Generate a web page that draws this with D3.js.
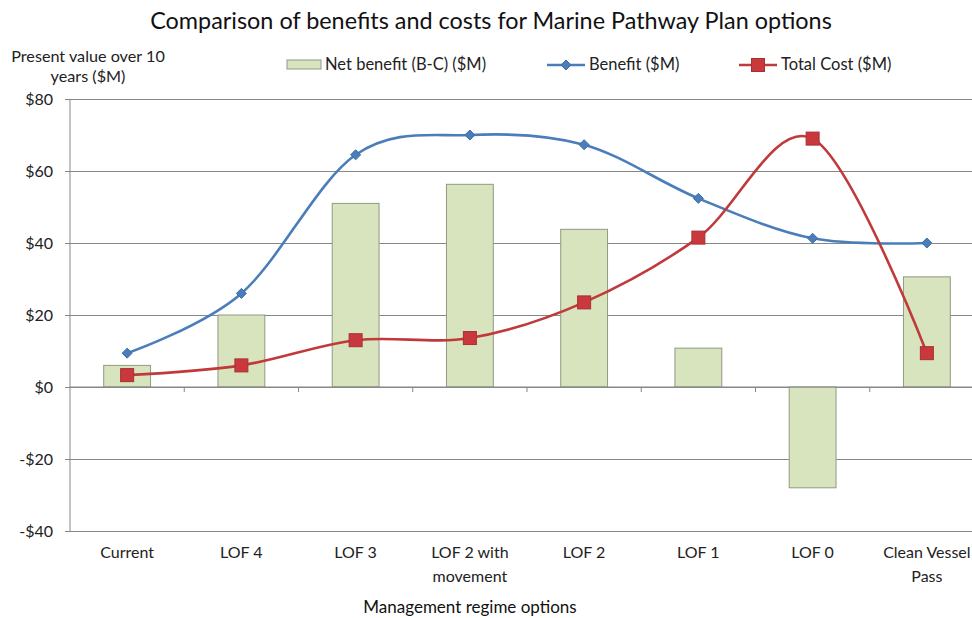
<!DOCTYPE html>
<html>
<head>
<meta charset="utf-8">
<script src="https://cdn.jsdelivr.net/npm/d3@7"></script>
<style>
  html, body { margin: 0; padding: 0; background: #fff; }
  svg { display: block; font-family: Lato, "Open Sans", sans-serif; }
</style>
</head>
<body>
<svg id="chart" width="972" height="618"></svg>
<script>
// Management regime options and their 10-year present values ($M)
const categories = ["Current", "LOF 4", "LOF 3", "LOF 2 with\nmovement", "LOF 2", "LOF 1", "LOF 0", "Clean Vessel\nPass"];
const netBenefit = [6, 20, 51, 56.3, 43.8, 10.8, -28, 30.6];
const benefit    = [9.4, 26, 64.5, 70, 67.3, 52.4, 41.3, 40];
const totalCost  = [3.3, 6, 13, 13.6, 23.5, 41.5, 69, 9.4];
const yTicks     = [-40, -20, 0, 20, 40, 60, 80];

const svg = d3.select("#chart");
const plotLeft = 70, plotRight = 984, plotTop = 99, plotBottom = 531;

const x = d3.scaleBand().domain(categories).range([plotLeft, plotRight]).paddingInner(0).paddingOuter(0);
const y = d3.scaleLinear().domain([-40, 80]).range([plotBottom, plotTop]);
const cx = c => x(c) + x.bandwidth() / 2;
const fmt = v => (v < 0 ? "-$" : "$") + Math.abs(v);

const gridColor = "#878787";
const textColor = "#222";

// horizontal gridlines with tick labels
const yAxis = svg.append("g")
  .attr("transform", `translate(${plotLeft},0)`)
  .call(d3.axisLeft(y).tickValues(yTicks).tickFormat(fmt).tickSize(-(plotRight - plotLeft)).tickPadding(17));
yAxis.select(".domain").remove();
yAxis.selectAll(".tick line").attr("stroke", gridColor).attr("stroke-width", 1).attr("x1", -5);
yAxis.selectAll(".tick text")
  .attr("font-size", 16).attr("fill", textColor).attr("font-family", "Lato, sans-serif");

// vertical axis line
svg.append("line")
  .attr("x1", plotLeft).attr("x2", plotLeft).attr("y1", plotTop).attr("y2", plotBottom)
  .attr("stroke", gridColor).attr("stroke-width", 1);

// bars for net benefit
const barW = x.bandwidth() * 0.41;
svg.append("g").selectAll("rect")
  .data(categories.map((c, i) => ({ c, v: netBenefit[i] })))
  .join("rect")
  .attr("x", d => cx(d.c) - barW / 2)
  .attr("width", barW)
  .attr("y", d => y(Math.max(0, d.v)))
  .attr("height", d => Math.abs(y(d.v) - y(0)))
  .attr("fill", "#d7e4bd")
  .attr("stroke", "#8f9a82")
  .attr("stroke-width", 1);

// category axis sitting on the zero line
const xAxisLine = svg.append("g");
xAxisLine.append("line")
  .attr("x1", plotLeft).attr("x2", plotRight).attr("y1", y(0)).attr("y2", y(0))
  .attr("stroke", gridColor).attr("stroke-width", 1);
xAxisLine.selectAll("line.tk")
  .data(categories.slice(1))
  .join("line").attr("class", "tk")
  .attr("x1", d => x(d)).attr("x2", d => x(d))
  .attr("y1", y(0)).attr("y2", y(0) + 5)
  .attr("stroke", gridColor).attr("stroke-width", 1);

// category labels below the plot
const labels = svg.append("g").selectAll("text")
  .data(categories)
  .join("text")
  .attr("x", d => cx(d))
  .attr("y", 558)
  .attr("text-anchor", "middle")
  .attr("font-size", 16)
  .attr("fill", textColor);
labels.each(function(d) {
  const parts = d.split("\n");
  d3.select(this).selectAll("tspan").data(parts).join("tspan")
    .attr("x", cx(d)).attr("dy", (p, i) => i === 0 ? 0 : 24).text(p => p);
});

// smoothed series lines
const line = d3.line().x(d => cx(d.c)).y(d => y(d.v)).curve(d3.curveCatmullRom.alpha(0));
const benefitColor = "#4a7ebb", costColor = "#c0393b";

const benefitData = categories.map((c, i) => ({ c, v: benefit[i] }));
const costData = categories.map((c, i) => ({ c, v: totalCost[i] }));

svg.append("path").datum(benefitData)
  .attr("d", line).attr("fill", "none").attr("stroke", benefitColor).attr("stroke-width", 2.6);
svg.append("path").datum(costData)
  .attr("d", line).attr("fill", "none").attr("stroke", costColor).attr("stroke-width", 2.6);

// markers
const diamond = d3.symbol().type(d3.symbolDiamond2).size(64);
svg.append("g").selectAll("path")
  .data(benefitData).join("path")
  .attr("d", diamond)
  .attr("transform", d => `translate(${cx(d.c)},${y(d.v)})`)
  .attr("fill", benefitColor).attr("stroke", "#3d6ca6").attr("stroke-width", 1);
svg.append("g").selectAll("rect")
  .data(costData).join("rect")
  .attr("x", d => cx(d.c) - 6.5).attr("y", d => y(d.v) - 6.5)
  .attr("width", 13).attr("height", 13)
  .attr("fill", "#c8383c").attr("stroke", "#a83034").attr("stroke-width", 1);

// title and axis titles
svg.append("text")
  .attr("x", 491).attr("y", 29).attr("text-anchor", "middle")
  .attr("font-size", 23.4).attr("fill", "#111")
  .text("Comparison of benefits and costs for Marine Pathway Plan options");
svg.append("text")
  .attr("x", 88).attr("y", 62).attr("text-anchor", "middle")
  .attr("font-size", 16.2).attr("fill", textColor)
  .text("Present value over 10");
svg.append("text")
  .attr("x", 88).attr("y", 82).attr("text-anchor", "middle")
  .attr("font-size", 16.2).attr("fill", textColor)
  .text("years ($M)");
svg.append("text")
  .attr("x", 470).attr("y", 613).attr("text-anchor", "middle")
  .attr("font-size", 17).attr("fill", "#111")
  .text("Management regime options");

// legend
const lg = svg.append("g").attr("font-size", 16.5).attr("fill", textColor);
lg.append("rect").attr("x", 287).attr("y", 60).attr("width", 34).attr("height", 9)
  .attr("fill", "#d7e4bd").attr("stroke", "#8f9a82");
lg.append("text").attr("x", 325).attr("y", 70).text("Net benefit (B-C) ($M)");

lg.append("line").attr("x1", 547).attr("x2", 585).attr("y1", 65).attr("y2", 65)
  .attr("stroke", benefitColor).attr("stroke-width", 2.6);
lg.append("path").attr("d", diamond).attr("transform", "translate(566,65)")
  .attr("fill", benefitColor).attr("stroke", "#3d6ca6");
lg.append("text").attr("x", 589).attr("y", 70).text("Benefit ($M)");

lg.append("line").attr("x1", 739).attr("x2", 777).attr("y1", 65).attr("y2", 65)
  .attr("stroke", costColor).attr("stroke-width", 2.6);
lg.append("rect").attr("x", 751.5).attr("y", 58.5).attr("width", 13).attr("height", 13)
  .attr("fill", "#c8383c").attr("stroke", "#a83034");
lg.append("text").attr("x", 781).attr("y", 70).text("Total Cost ($M)");
</script>
</body>
</html>
